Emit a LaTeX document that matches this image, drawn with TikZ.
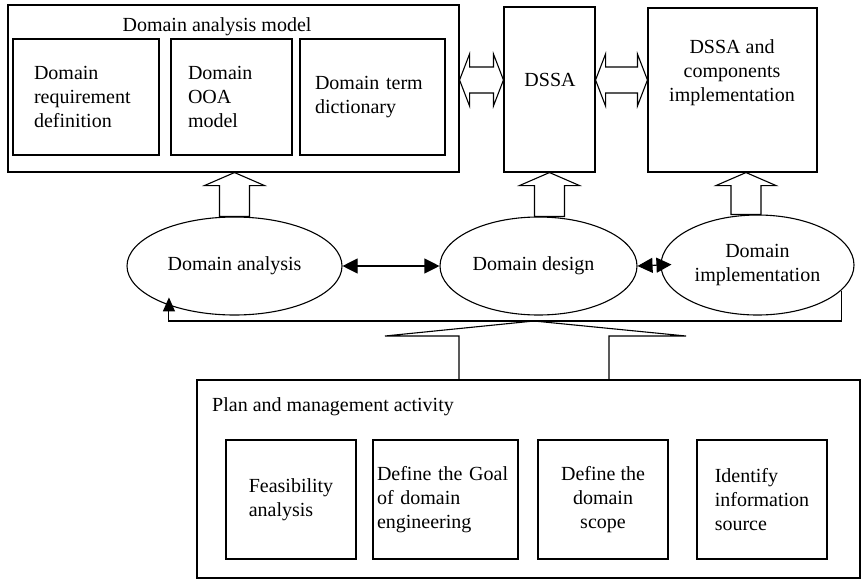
\documentclass[tikz,border=0pt]{standalone}
\usepackage{fontspec}
\setmainfont{Liberation Serif}
\usetikzlibrary{shapes,arrows.meta}
\usetikzlibrary{positioning,calc}

% hollow block arrows
\newcommand{\upBlock}[2]{%
  \draw[myBlock] ($(#1)+(-15,0)$) -- ($(#1 |- #2)+(-15,13)$) -- ($(#1 |- #2)+(-30,13)$) -- (#1 |- #2)
    -- ($(#1 |- #2)+(30,13)$) -- ($(#1 |- #2)+(15,13)$) -- ($(#1)+(15,0)$) -- cycle;}
\newcommand{\lrBlock}[2]{%
  \draw[myBlock] (#1) -- ++(10,-26) -- ++(0,13) -- ($(#2)+(-10,-13)$) -- ++(0,-13) -- (#2)
    -- ++(-10,26) -- ++(0,-13) -- ($(#1)+(10,13)$) -- ++(0,13) -- cycle;}

\begin{document}
\begin{tikzpicture}[x=1pt,y=-1pt]
\tikzset{myFont/.style={font=\fontsize{20}{24}\selectfont}}
\tikzset{myBox/.style={draw,line width=1.1pt,inner sep=0pt,myFont}}
\tikzset{myOval/.style={draw,ellipse,line width=1.1pt,inner sep=0pt,myFont,align=center}}
\tikzset{myBlock/.style={line width=1.1pt,line join=miter}}
\tikzset{myTip/.style={line width=1.1pt,{Triangle[length=15pt,width=15pt]}-{Triangle[length=15pt,width=15pt]}}}
\tikzset{myLoop/.style={line width=1.1pt,-{Triangle[length=14pt,width=12pt]}}}

\useasboundingbox (0,0) rectangle (861,581);

% domain analysis model
\node[myBox,minimum width=451pt,minimum height=167pt] (dam) at (233.5,88.5) {};
\node[myFont,inner sep=0pt] (damT) at (217,27) {Domain analysis model};
\node[myBox,minimum height=116pt,text width=104pt,inner xsep=21pt,align=left] (req) at (86,97) {Domain\\requirement\\definition};
\node[myBox,minimum height=116pt,text width=87pt,inner xsep=17pt,align=left] (ooa) at (231.5,97) {Domain\\OOA\\model};
\node[myBox,minimum height=116pt,text width=115pt,inner xsep=15pt,align=left] (term) at (372.5,97) {Domain term\\dictionary};

\node[myBox,minimum width=91pt,minimum height=165pt] (dssa) at (549.5,89.5) {};
\node[myFont,inner sep=0pt] (dssaT) at (550,80) {DSSA};
\node[myBox,minimum width=169pt,minimum height=164pt] (dimp) at (732.5,90) {};
\node[myFont,inner sep=0pt,align=center] (dimpT) at (732,73) {DSSA and\\components\\implementation};

\lrBlock{dam.east |- dssaT}{dssa.west |- dssaT}
\lrBlock{dssa.east |- dssaT}{dimp.west |- dssaT}

% activities
\node[myOval,minimum width=215pt,minimum height=98pt] (ana) at (234.5,266) {Domain analysis};
\node[myOval,minimum width=197pt,minimum height=98pt] (des) at (538.5,266) {Domain design\hspace*{10pt}};
\node[myOval,minimum width=193pt,minimum height=100pt] (imp) at (757.5,265) {Domain\\implementation};

\draw[myTip] (ana) -- (des);
\draw[myTip,shorten >=-11pt] (des.east) -- (imp.west);

\coordinate (impTop) at ($(imp.north)+(-11.5,0)$);
\upBlock{ana.north}{dam.south}
\upBlock{dssa.south |- des.north}{dssa.south}
\upBlock{impTop}{dimp.south}

\coordinate (loop) at (0,321);
\draw[myLoop,shorten >=-8pt] (imp.-17) -- (imp.-17 |- loop) -- (ana.-149 |- loop) -- (ana.-149);

% plan and management
\node[myBox,minimum width=663pt,minimum height=198pt] (plan) at (528.5,479) {};
\node[myFont,inner sep=0pt,anchor=west] (planT) at (212,407) {Plan and management activity};
\node[myBox,minimum width=130pt,minimum height=119pt,align=left] (feas) at (291,499.5) {Feasibility\\analysis};
\node[myBox,minimum height=119pt,text width=137pt,inner xsep=4pt,align=left] (goal) at (445.5,499.5) {Define the Goal\\of domain\\engineering};
\node[myBox,minimum width=130pt,minimum height=119pt,align=center] (scope) at (603,499.5) {Define the\\domain\\scope};
\node[myBox,minimum width=130pt,minimum height=119pt,align=left] (src) at (762,499.5) {Identify\\information\\source};

\coordinate (pB) at ($(plan.north)+(5.5,0)$);
\draw[myBlock] ($(pB)+(-75,0)$) -- ($(pB |- loop)+(-75,15)$) -- ($(pB |- loop)+(-149,15)$) -- (pB |- loop)
  -- ($(pB |- loop)+(152,15)$) -- ($(pB |- loop)+(75,15)$) -- ($(pB)+(75,0)$);

\end{tikzpicture}
\end{document}
